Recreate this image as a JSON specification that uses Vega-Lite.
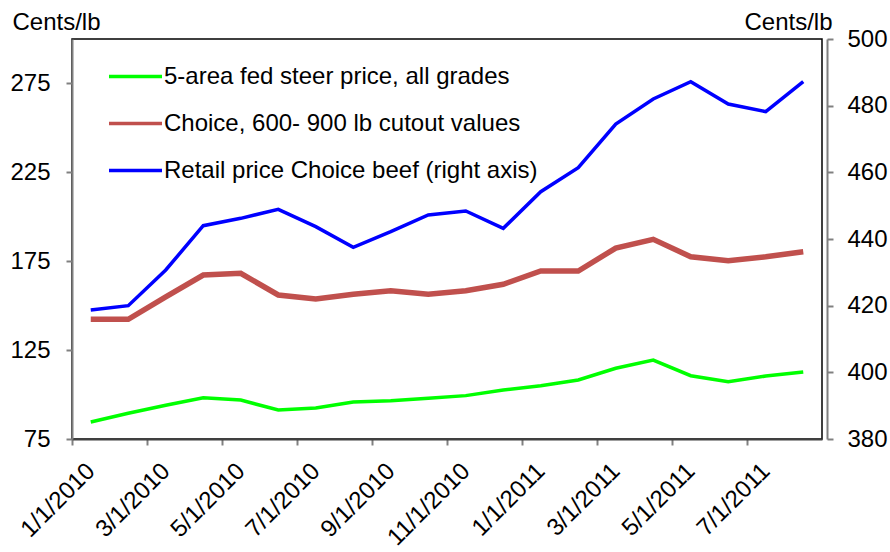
{
  "$schema": "https://vega.github.io/schema/vega-lite/v6.json",
  "width": 750,
  "height": 400,
  "autosize": {"type": "none"},
  "padding": {"left": 72, "top": 39, "right": 68, "bottom": 113},
  "background": "white",
  "config": {
    "font": "Liberation Sans",
    "view": {"stroke": "#000000", "strokeWidth": 1.5},
    "axis": {"grid": false, "labelColor": "#000000", "titleColor": "#000000", "labelFont": "Liberation Sans", "titleFont": "Liberation Sans"}
  },
  "data": {
    "values": [
      {"date": "1/1/2010", "series": "5-area fed steer price, all grades", "value": 84.6},
      {"date": "2/1/2010", "series": "5-area fed steer price, all grades", "value": 89.5},
      {"date": "3/1/2010", "series": "5-area fed steer price, all grades", "value": 94.0},
      {"date": "4/1/2010", "series": "5-area fed steer price, all grades", "value": 98.2},
      {"date": "5/1/2010", "series": "5-area fed steer price, all grades", "value": 96.9},
      {"date": "6/1/2010", "series": "5-area fed steer price, all grades", "value": 91.3},
      {"date": "7/1/2010", "series": "5-area fed steer price, all grades", "value": 92.4},
      {"date": "8/1/2010", "series": "5-area fed steer price, all grades", "value": 95.8},
      {"date": "9/1/2010", "series": "5-area fed steer price, all grades", "value": 96.5},
      {"date": "10/1/2010", "series": "5-area fed steer price, all grades", "value": 97.9},
      {"date": "11/1/2010", "series": "5-area fed steer price, all grades", "value": 99.4},
      {"date": "12/1/2010", "series": "5-area fed steer price, all grades", "value": 102.6},
      {"date": "1/1/2011", "series": "5-area fed steer price, all grades", "value": 105.0},
      {"date": "2/1/2011", "series": "5-area fed steer price, all grades", "value": 108.2},
      {"date": "3/1/2011", "series": "5-area fed steer price, all grades", "value": 114.8},
      {"date": "4/1/2011", "series": "5-area fed steer price, all grades", "value": 119.4},
      {"date": "5/1/2011", "series": "5-area fed steer price, all grades", "value": 110.6},
      {"date": "6/1/2011", "series": "5-area fed steer price, all grades", "value": 107.2},
      {"date": "7/1/2011", "series": "5-area fed steer price, all grades", "value": 110.4},
      {"date": "8/1/2011", "series": "5-area fed steer price, all grades", "value": 112.7},
      {"date": "1/1/2010", "series": "Choice, 600- 900 lb cutout values", "value": 142.3},
      {"date": "2/1/2010", "series": "Choice, 600- 900 lb cutout values", "value": 142.3},
      {"date": "3/1/2010", "series": "Choice, 600- 900 lb cutout values", "value": 155.0},
      {"date": "4/1/2010", "series": "Choice, 600- 900 lb cutout values", "value": 167.2},
      {"date": "5/1/2010", "series": "Choice, 600- 900 lb cutout values", "value": 168.2},
      {"date": "6/1/2010", "series": "Choice, 600- 900 lb cutout values", "value": 156.0},
      {"date": "7/1/2010", "series": "Choice, 600- 900 lb cutout values", "value": 153.7},
      {"date": "8/1/2010", "series": "Choice, 600- 900 lb cutout values", "value": 156.4},
      {"date": "9/1/2010", "series": "Choice, 600- 900 lb cutout values", "value": 158.4},
      {"date": "10/1/2010", "series": "Choice, 600- 900 lb cutout values", "value": 156.4},
      {"date": "11/1/2010", "series": "Choice, 600- 900 lb cutout values", "value": 158.4},
      {"date": "12/1/2010", "series": "Choice, 600- 900 lb cutout values", "value": 162.0},
      {"date": "1/1/2011", "series": "Choice, 600- 900 lb cutout values", "value": 169.5},
      {"date": "2/1/2011", "series": "Choice, 600- 900 lb cutout values", "value": 169.5},
      {"date": "3/1/2011", "series": "Choice, 600- 900 lb cutout values", "value": 182.4},
      {"date": "4/1/2011", "series": "Choice, 600- 900 lb cutout values", "value": 187.3},
      {"date": "5/1/2011", "series": "Choice, 600- 900 lb cutout values", "value": 177.5},
      {"date": "6/1/2011", "series": "Choice, 600- 900 lb cutout values", "value": 175.3},
      {"date": "7/1/2011", "series": "Choice, 600- 900 lb cutout values", "value": 177.5},
      {"date": "8/1/2011", "series": "Choice, 600- 900 lb cutout values", "value": 180.3},
      {"date": "1/1/2010", "series": "Retail price Choice  beef (right axis)", "value": 418.7},
      {"date": "2/1/2010", "series": "Retail price Choice  beef (right axis)", "value": 420.0},
      {"date": "3/1/2010", "series": "Retail price Choice  beef (right axis)", "value": 430.7},
      {"date": "4/1/2010", "series": "Retail price Choice  beef (right axis)", "value": 444.0},
      {"date": "5/1/2010", "series": "Retail price Choice  beef (right axis)", "value": 446.2},
      {"date": "6/1/2010", "series": "Retail price Choice  beef (right axis)", "value": 448.9},
      {"date": "7/1/2010", "series": "Retail price Choice  beef (right axis)", "value": 443.7},
      {"date": "8/1/2010", "series": "Retail price Choice  beef (right axis)", "value": 437.5},
      {"date": "9/1/2010", "series": "Retail price Choice  beef (right axis)", "value": 442.2},
      {"date": "10/1/2010", "series": "Retail price Choice  beef (right axis)", "value": 447.2},
      {"date": "11/1/2010", "series": "Retail price Choice  beef (right axis)", "value": 448.4},
      {"date": "12/1/2010", "series": "Retail price Choice  beef (right axis)", "value": 443.2},
      {"date": "1/1/2011", "series": "Retail price Choice  beef (right axis)", "value": 454.2},
      {"date": "2/1/2011", "series": "Retail price Choice  beef (right axis)", "value": 461.4},
      {"date": "3/1/2011", "series": "Retail price Choice  beef (right axis)", "value": 474.5},
      {"date": "4/1/2011", "series": "Retail price Choice  beef (right axis)", "value": 482.0},
      {"date": "5/1/2011", "series": "Retail price Choice  beef (right axis)", "value": 487.2},
      {"date": "6/1/2011", "series": "Retail price Choice  beef (right axis)", "value": 480.5},
      {"date": "7/1/2011", "series": "Retail price Choice  beef (right axis)", "value": 478.2},
      {"date": "8/1/2011", "series": "Retail price Choice  beef (right axis)", "value": 487.2}
    ]
  },
  "encoding": {
    "x": {
      "field": "date",
      "type": "ordinal",
      "sort": null,
      "scale": {"paddingInner": 0, "paddingOuter": 0},
      "axis": {
        "title": null,
        "values": ["1/1/2010", "3/1/2010", "5/1/2010", "7/1/2010", "9/1/2010", "11/1/2010", "1/1/2011", "3/1/2011", "5/1/2011", "7/1/2011"],
        "tickOffset": -18.75,
        "labelOffset": 18.75,
        "labelAngle": -45,
        "labelAlign": "right",
        "labelBaseline": "middle",
        "labelFontSize": 24,
        "labelPadding": 22,
        "labelLimit": 300,
        "labelOverlap": false,
        "labelBound": false,
        "tickSize": 6,
        "tickColor": "#808080",
        "tickWidth": 2,
        "domainColor": "#404040",
        "domainWidth": 2
      }
    },
    "color": {
      "field": "series",
      "type": "nominal",
      "scale": {
        "domain": ["5-area fed steer price, all grades", "Choice, 600- 900 lb cutout values", "Retail price Choice  beef (right axis)"],
        "range": ["#00FF00", "#C0504D", "#0000FF"]
      },
      "legend": {
        "orient": "none",
        "legendX": 35,
        "legendY": 9,
        "title": null,
        "symbolType": "stroke",
        "symbolSize": 2809,
        "symbolStrokeWidth": 3.5,
        "labelFontSize": 24,
        "labelLimit": 500,
        "labelOffset": 0,
        "rowPadding": 6,
        "padding": 0,
        "labelColor": "#000000"
      }
    }
  },
  "layer": [
    {
      "transform": [{"filter": "datum.series !== 'Retail price Choice  beef (right axis)'"}],
      "mark": {"type": "line", "strokeJoin": "miter"},
      "encoding": {
        "y": {
          "field": "value",
          "type": "quantitative",
          "scale": {"domain": [75, 300], "nice": false, "zero": false},
          "axis": {
            "values": [75, 125, 175, 225, 275],
            "title": "Cents/lb",
            "titleAngle": 0,
            "titleX": -60,
            "titleY": -10,
            "titleAlign": "left",
            "titleBaseline": "alphabetic",
            "titleFontSize": 24,
            "titleFontWeight": "normal",
            "labelFontSize": 24,
            "labelPadding": 16,
            "tickSize": 6,
            "tickColor": "#808080",
            "tickWidth": 2,
            "domainColor": "#808080",
            "domainWidth": 2
          }
        },
        "strokeWidth": {
          "field": "series",
          "type": "nominal",
          "scale": {"domain": ["5-area fed steer price, all grades", "Choice, 600- 900 lb cutout values"], "range": [3.5, 5.5]},
          "legend": null
        }
      }
    },
    {
      "transform": [{"filter": "datum.series === 'Retail price Choice  beef (right axis)'"}],
      "mark": {"type": "line", "strokeWidth": 3.5, "strokeJoin": "miter"},
      "encoding": {
        "y": {
          "field": "value",
          "type": "quantitative",
          "scale": {"domain": [380, 500], "nice": false, "zero": false},
          "axis": {
            "orient": "right",
            "offset": 5,
            "values": [380, 400, 420, 440, 460, 480, 500],
            "title": "Cents/lb",
            "titleAngle": 0,
            "titleX": 5,
            "titleY": -10,
            "titleAlign": "right",
            "titleBaseline": "alphabetic",
            "titleFontSize": 24,
            "titleFontWeight": "normal",
            "labelFontSize": 24,
            "labelPadding": 14,
            "tickSize": 6,
            "tickColor": "#808080",
            "tickWidth": 2,
            "domainColor": "#808080",
            "domainWidth": 2
          }
        }
      }
    }
  ],
  "resolve": {"scale": {"y": "independent"}}
}
